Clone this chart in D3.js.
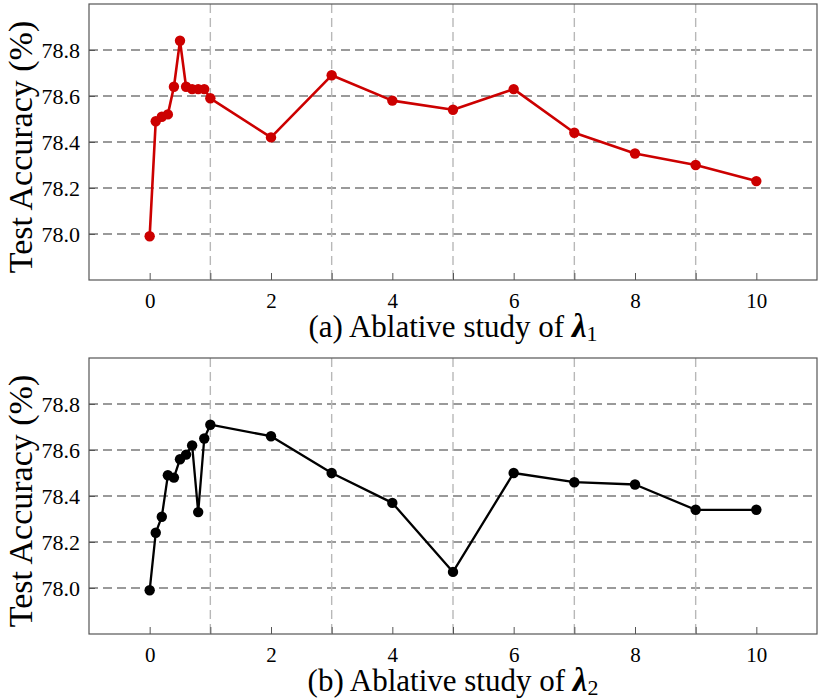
<!DOCTYPE html>
<html>
<head>
<meta charset="utf-8">
<script src="https://cdn.jsdelivr.net/npm/d3@7"></script>
<style>
  body { margin: 0; background: #fff; }
  svg text { font-family: "Liberation Serif", "Times New Roman", serif; }
</style>
</head>
<body>
<div id="chart"></div>
<script>
// lambda values used in both studies
const lambdas = [0, 0.1, 0.2, 0.3, 0.4, 0.5, 0.6, 0.7, 0.8, 0.9, 1, 2, 3, 4, 5, 6, 7, 8, 9, 10];
const accLambda1 = [77.99, 78.49, 78.51, 78.52, 78.64, 78.84, 78.64, 78.63, 78.63, 78.63, 78.59,
  78.42, 78.69, 78.58, 78.54, 78.63, 78.44, 78.35, 78.30, 78.23];
const accLambda2 = [77.99, 78.24, 78.31, 78.49, 78.48, 78.56, 78.58, 78.62, 78.33, 78.65, 78.71,
  78.66, 78.50, 78.37, 78.07, 78.50, 78.46, 78.45, 78.34, 78.34];
const yTicks = [78.0, 78.2, 78.4, 78.6, 78.8];
const xLabelTicks = [0, 2, 4, 6, 8, 10];
const xMinorTicks = [0, 1, 2, 3, 4, 5, 6, 7, 8, 9, 10];
const xGridTicks = [1, 3, 5, 7, 9];
const panels = [
  { tag: "(a)", sub: "1", values: accLambda1, color: "#cc0000", top: 4 },
  { tag: "(b)", sub: "2", values: accLambda2, color: "#000000", top: 358 }
];

const W = 822, H = 699;
const left = 89, right = 817, plotH = 276;
const serif = '"Liberation Serif", "Times New Roman", serif';

const svg = d3.select("#chart").append("svg")
  .attr("width", W)
  .attr("height", H);

const x = d3.scaleLinear().domain([-1, 11]).range([left, right]);

panels.forEach(p => {
  const y = d3.scaleLinear().domain([77.8, 79.0]).range([p.top + plotH, p.top]);
  const g = svg.append("g");

  // horizontal grid (major y ticks)
  g.selectAll(".hgrid").data(yTicks).enter().append("line")
    .attr("x1", left).attr("x2", right)
    .attr("y1", d => y(d)).attr("y2", d => y(d))
    .attr("stroke", "#7a7a7a").attr("stroke-width", 1.4)
    .attr("stroke-dasharray", "9,5");

  // vertical grid at odd values
  g.selectAll(".vgrid").data(xGridTicks).enter().append("line")
    .attr("x1", d => x(d)).attr("x2", d => x(d))
    .attr("y1", p.top).attr("y2", p.top + plotH)
    .attr("stroke", "#b8b8b8").attr("stroke-width", 1.4)
    .attr("stroke-dasharray", "9,5");

  // bottom axis: ticks inside at every integer, labels on even
  const xAx = g.append("g").attr("transform", `translate(0,${p.top + plotH})`)
    .call(d3.axisBottom(x).tickValues(xMinorTicks).tickSizeInner(-7).tickSizeOuter(0)
      .tickFormat(d => xLabelTicks.includes(d) ? d : ""));
  xAx.select(".domain").remove();
  xAx.selectAll(".tick line").attr("stroke", "#555");
  xAx.selectAll(".tick text")
    .style("font-family", serif).style("font-size", "21px")
    .attr("fill", "#000").attr("y", 13).attr("dy", "0.71em");

  // left axis
  const yAx = g.append("g").attr("transform", `translate(${left},0)`)
    .call(d3.axisLeft(y).tickValues(yTicks).tickSizeInner(-6).tickSizeOuter(0)
      .tickFormat(d3.format(".1f")));
  yAx.select(".domain").remove();
  yAx.selectAll(".tick line").attr("stroke", "#555");
  yAx.selectAll(".tick text")
    .style("font-family", serif).style("font-size", "22px")
    .attr("fill", "#000").attr("x", -9);

  // frame
  g.append("rect")
    .attr("x", left).attr("y", p.top)
    .attr("width", right - left).attr("height", plotH)
    .attr("fill", "none").attr("stroke", "#555").attr("stroke-width", 1.2);

  const pts = lambdas.map((l, i) => ({ l, v: p.values[i] }));
  const line = d3.line().x(d => x(d.l)).y(d => y(d.v));

  g.append("path").datum(pts)
    .attr("fill", "none")
    .attr("stroke", p.color)
    .attr("stroke-width", p.color === "#000000" ? 2.3 : 2.6)
    .attr("stroke-linejoin", "round")
    .attr("d", line);

  g.selectAll(".dot").data(pts).enter().append("circle")
    .attr("cx", d => x(d.l)).attr("cy", d => y(d.v))
    .attr("r", 5.2).attr("fill", p.color);

  // y axis label
  g.append("text")
    .attr("transform", `translate(32,${p.top + plotH / 2 + 5}) rotate(-90)`)
    .attr("text-anchor", "middle")
    .style("font-size", "34px")
    .text("Test Accuracy (%)");

  // x axis title
  const t = g.append("text")
    .attr("x", (left + right) / 2)
    .attr("y", p.top + plotH + 57)
    .attr("text-anchor", "middle")
    .style("font-size", "31px");
  t.append("tspan").text(p.tag + " Ablative study of ");
  t.append("tspan").style("font-style", "italic").style("font-weight", "bold").style("font-size", "33px").text("λ");
  t.append("tspan").style("font-size", "22px").attr("dy", 4).text(p.sub);
});
</script>
</body>
</html>
